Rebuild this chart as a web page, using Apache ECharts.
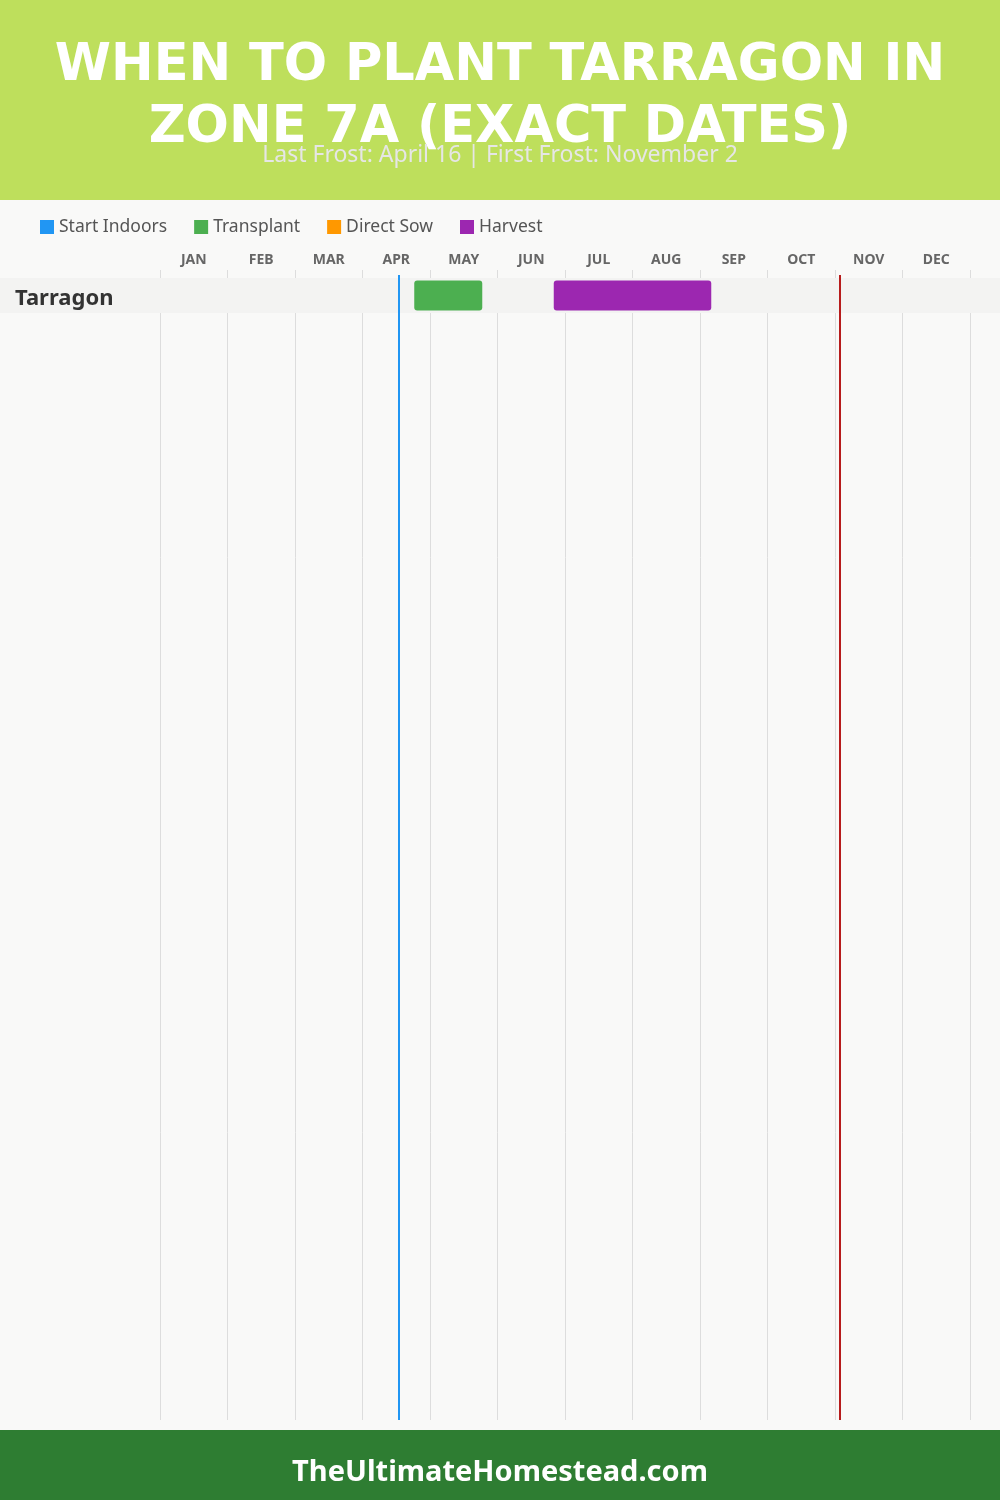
<!DOCTYPE html>
<html><head><meta charset="utf-8">
<script src="https://cdn.jsdelivr.net/npm/echarts@6/dist/echarts.min.js"></script>
<style>html,body{margin:0;padding:0;background:#f9f9f8;}#c{width:1000px;height:1500px;}</style>
</head><body><div id="c"></div>
<script>
const titleText = 'WHEN TO PLANT TARRAGON IN\nZONE 7A (EXACT DATES)';
const subtitleText = 'Last Frost: April 16 | First Frost: November 2';
const footerText = 'TheUltimateHomestead.com';
const months = ['JAN','FEB','MAR','APR','MAY','JUN','JUL','AUG','SEP','OCT','NOV','DEC'];
const daysInMonth = [31,28,31,30,31,30,31,31,30,31,30,31];
const crops = ['Tarragon'];
const phases = ['Start Indoors','Transplant','Direct Sow','Harvest'];
const phaseColors = ['#2196F3','#4CAF50','#FF9800','#9C27B0'];
const taskCrop = ['Tarragon','Tarragon'];
const taskPhase = ['Transplant','Harvest'];
const taskStart = ['04-23','06-25'];
const taskEnd = ['05-24','09-05'];
const lastFrost = '04-16';
const firstFrost = '11-02';

function pos(md){ const [m,d] = md.split('-').map(Number); return (m-1) + d/daysInMonth[m-1]; }

const FONT = '"Noto Sans", sans-serif';

const barSeries = phases.map((p, i) => {
  const data = [];
  taskPhase.forEach((tp, k) => { if (tp === p) data.push([pos(taskStart[k]), pos(taskEnd[k]), crops.indexOf(taskCrop[k])]); });
  return {
    type: 'custom', name: p, xAxisIndex: 1, yAxisIndex: 0, z: 5,
    itemStyle: { color: phaseColors[i] },
    encode: { x: [0,1], y: 2 },
    data: data,
    renderItem: function(params, api){
      const s = api.coord([api.value(0), api.value(2)]);
      const e = api.coord([api.value(1), api.value(2)]);
      const h = api.size([0,1])[1] * 0.86;
      return { type: 'rect', shape: { x: s[0], y: s[1]-h/2, width: e[0]-s[0], height: h, r: 3 }, style: { fill: phaseColors[i] } };
    }
  };
});

const bandSeries = {
  type: 'custom', name: 'band', xAxisIndex: 1, yAxisIndex: 0, z: 1, silent: true,
  data: crops.map((c, i) => [0, i]),
  encode: { x: 0, y: 1 },
  renderItem: function(params, api){
    const c = api.coord([0, api.value(1)]);
    const h = api.size([0,1])[1];
    return { type: 'rect', shape: { x: 0, y: c[1]-h/2, width: api.getWidth(), height: h }, style: { fill: '#f3f3f2' } };
  }
};

const frostSeries = {
  type: 'line', name: 'frost', xAxisIndex: 3, yAxisIndex: 2, data: [], z: 6, silent: true,
  markLine: {
    symbol: 'none', silent: true, label: { show: false },
    data: [
      { xAxis: pos(lastFrost), lineStyle: { color: '#2196F3', width: 2, type: 'solid' } },
      { xAxis: pos(firstFrost), lineStyle: { color: '#B71C1C', width: 2, type: 'solid' } }
    ]
  }
};

const chart = echarts.init(document.getElementById('c'), null, { renderer: 'canvas' });
chart.setOption({
  backgroundColor: '#f9f9f8',
  animation: false,
  graphic: [
    { type: 'rect', shape: { x: 0, y: 0, width: 1000, height: 200 }, style: { fill: '#bedf5c' }, z: -10 },
    { type: 'rect', shape: { x: 0, y: 1430, width: 1000, height: 70 }, style: { fill: '#2e7d32' }, z: -10 },
    { type: 'text', left: 'center', top: 1458, style: { text: footerText, fill: '#fff', font: 'bold 29px ' + FONT } }
  ],
  title: [
    { text: titleText, left: 'center', top: 31, textStyle: { color: '#fff', fontSize: 51, fontWeight: 900, fontFamily: '"DejaVu Sans", sans-serif', lineHeight: 62 } },
    { text: subtitleText, left: 'center', top: 139, textStyle: { color: '#e6e6e6', fontSize: 23, fontWeight: 'normal', fontFamily: FONT } }
  ],
  legend: {
    left: 35, top: 213, itemWidth: 14, itemHeight: 14, itemGap: 27, icon: 'rect',
    data: phases,
    textStyle: { color: '#555', fontSize: 17.5, fontFamily: FONT }
  },
  grid: [
    { left: 160, right: 30, top: 278, height: 35 },
    { left: 160, right: 30, top: 270, bottom: 80 },
    { left: 160, right: 30, top: 275, bottom: 80 }
  ],
  xAxis: [
    { type: 'category', gridIndex: 1, position: 'top', data: months, boundaryGap: true,
      axisLine: { show: false }, axisTick: { show: false },
      axisLabel: { color: '#666', fontSize: 14, fontWeight: 'bold', fontFamily: FONT, margin: 3 },
      splitLine: { show: true, lineStyle: { color: '#dddddd', width: 1 } } },
    { type: 'value', gridIndex: 0, min: 0, max: 12, show: false },
    { type: 'value', gridIndex: 1, min: 0, max: 12, show: false },
    { type: 'value', gridIndex: 2, min: 0, max: 12, show: false }
  ],
  yAxis: [
    { type: 'category', gridIndex: 0, data: crops, inverse: true, z: 10,
      axisLine: { show: false }, axisTick: { show: false }, splitLine: { show: false },
      axisLabel: { align: 'left', margin: 145, formatter: '{c|{value}}',
        rich: { c: { color: '#333', fontSize: 22, fontWeight: 'bold', fontFamily: FONT, lineHeight: 25, padding: [6, 0, 0, 0] } } } },
    { type: 'value', gridIndex: 1, min: 0, max: 1, show: false },
    { type: 'value', gridIndex: 2, min: 0, max: 1, show: false }
  ],
  series: [bandSeries].concat(barSeries, [frostSeries])
});
</script></body></html>
